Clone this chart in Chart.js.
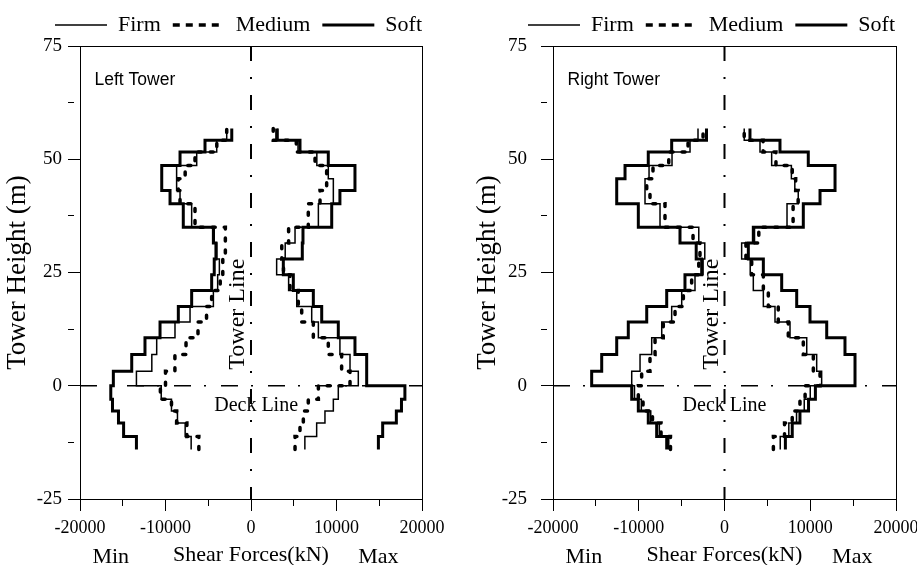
<!DOCTYPE html>
<html>
<head>
<meta charset="utf-8">
<script src="https://cdn.jsdelivr.net/npm/chart.js@4.4.1/dist/chart.umd.min.js"></script>
<style>
  html, body { margin: 0; padding: 0; background: #fff; }
  body { width: 917px; height: 565px; position: relative; overflow: hidden; }
  canvas { position: absolute; top: 0; }
</style>
</head>
<body>
<canvas id="leftChart" width="458" height="565" style="left:0"></canvas>
<canvas id="rightChart" width="468" height="565" style="left:458px"></canvas>
<script>
// step levels along the tower (m), one value per segment between two levels
const levels = [-14.1, -11.2, -8.2, -5.6, -3.0, 0, 3.2, 6.9, 10.6, 14.1, 17.5, 21, 24.5, 28, 31.5, 35, 37.7, 40.2, 43.1, 45.7, 48.6, 51.6, 54.2, 56.8];

const leftFirmMin   = [-7000, -7700, -8600, -9300, -10500, -13400, -11600, -11030, -8890, -7130, -4400, -3900, -3700, -4000, -4300, -6940, -6940, -8300, -8700, -8700, -6350, -4010, -2840];
const leftMediumMin = [-6100, -7500, -8700, -9300, -10600, -10000, -8900, -7600, -6200, -5200, -4600, -3600, -3300, -3000, -3000, -6550, -6550, -8300, -8500, -7700, -6550, -4000, -2840];
const leftSoftMin   = [-13400, -14900, -15500, -16200, -16400, -16100, -13950, -12400, -10640, -8500, -6940, -4600, -4300, -4100, -4400, -7920, -7920, -9470, -10440, -10440, -8300, -5380, -2250];
const leftFirmMax   = [6300, 7680, 8650, 9630, 10210, 12550, 11580, 10400, 7880, 7100, 5350, 4400, 3000, 4000, 5150, 7880, 7880, 9630, 9630, 9040, 7700, 5500, 3160];
const leftMediumMax = [5150, 5730, 6120, 6700, 7880, 11580, 10600, 9040, 7290, 5930, 5530, 4560, 3800, 3600, 4400, 6700, 6700, 8070, 8850, 8850, 7490, 5300, 2600];
const leftSoftMax   = [14900, 15400, 17000, 17600, 18000, 13530, 13530, 12160, 10210, 8270, 7290, 4950, 3780, 6000, 6080, 9440, 9440, 10400, 12160, 12160, 9040, 5730, 3000];

const rightFirmMin   = [-6500, -7600, -8600, -9700, -10500, -10820, -9850, -8490, -7320, -6160, -4990, -3440, -2500, -2300, -3000, -7520, -7520, -9270, -9270, -8800, -6120, -4020, -3090];
const rightMediumMin = [-6300, -7400, -8400, -9500, -10050, -9660, -8690, -8100, -7140, -5770, -4800, -3830, -3000, -2860, -3670, -6940, -6940, -8690, -9070, -8340, -6500, -4250, -2500];
const rightSoftMin   = [-6740, -7910, -8890, -10050, -10820, -15490, -14320, -12570, -11220, -9070, -6740, -4610, -2660, -3300, -5190, -10050, -10050, -12570, -12570, -11600, -8890, -6160, -2100];
const rightFirmMax   = [6500, 7500, 8400, 9300, 10000, 11330, 10750, 9590, 7640, 5890, 4530, 3360, 3000, 2000, 3500, 7290, 7290, 8600, 8200, 7800, 5500, 4140, 2300];
const rightMediumMax = [5700, 7000, 7900, 8800, 9400, 11140, 10360, 9190, 7440, 6270, 5110, 4530, 3170, 2500, 4000, 8000, 8000, 8590, 8300, 7900, 6000, 4500, 2300];
const rightSoftMax   = [7100, 7900, 8800, 9800, 10600, 15220, 15220, 14050, 11920, 9970, 8420, 6670, 4530, 2780, 3360, 9190, 9190, 11140, 12890, 12890, 9770, 6470, 2970];

const xTickLabels = [-20000, -10000, 0, 10000, 20000];
const yTickLabels = [-25, 0, 25, 50, 75];

const SERIF = '"Liberation Serif", "Times New Roman", serif';
const SANS = '"Liberation Sans", Arial, sans-serif';

Chart.defaults.font.family = SERIF;
Chart.defaults.color = '#000';

const styles = {
    Firm:   { borderWidth: 1.5, borderDash: [], cap: 'butt', legendDash: [] },
    Medium: { borderWidth: 3.5, borderDash: [3, 9], cap: 'round', legendDash: [7, 6] },
    Soft:   { borderWidth: 3,   borderDash: [], cap: 'butt', legendDash: [] },
};

// points for a stepped line: vertical run at each value, then a jump at the next level
function stepPoints(values) {
    return levels.map((h, i) => ({ x: values[Math.min(i, values.length - 1)], y: h }));
}

function series(label, values) {
    return {
        label,
        data: stepPoints(values),
        showLine: true,
        stepped: 'after',
        borderColor: '#000',
        backgroundColor: '#000',
        pointRadius: 0,
        borderWidth: styles[label].borderWidth,
        borderDash: styles[label].borderDash,
        borderCapStyle: styles[label].cap,
        borderJoinStyle: 'miter',
    };
}

function refLine(points, dash, width) {
    return {
        label: '',
        data: points,
        showLine: true,
        borderColor: '#000',
        pointRadius: 0,
        borderWidth: width,
        borderDash: dash,
    };
}

const annotations = {
    id: 'annotations',
    afterDatasetsDraw(chart, args, opts) {
        const { ctx, scales: { x, y } } = chart;
        ctx.save();
        ctx.fillStyle = '#000';

        ctx.font = '17.5px ' + SANS;
        ctx.textAlign = 'left';
        ctx.textBaseline = 'alphabetic';
        ctx.fillText(opts.name, x.getPixelForValue(-18300), y.getPixelForValue(66.3));

        ctx.font = '20px ' + SERIF;
        ctx.textAlign = 'center';
        ctx.fillText('Deck Line', x.getPixelForValue(opts.deckX), y.getPixelForValue(-5.5));

        ctx.font = '24px ' + SERIF;
        ctx.save();
        ctx.translate(x.getPixelForValue(-800), y.getPixelForValue(15.8));
        ctx.rotate(-Math.PI / 2);
        ctx.fillText('Tower Line', 0, 0);
        ctx.restore();

        ctx.font = '22px ' + SERIF;
        ctx.fillText('Min', x.getPixelForValue(-16400), chart.height - 2);
        ctx.fillText('Max', x.getPixelForValue(14900), chart.height - 2);
        ctx.restore();
    }
};

function makePanel(canvasId, name, data, layout) {
    const [firmMin, mediumMin, softMin, firmMax, mediumMax, softMax] = data;
    const datasets = [
        series('Firm', firmMin),
        series('Medium', mediumMin),
        series('Soft', softMin),
        series('Firm', firmMax),
        series('Medium', mediumMax),
        series('Soft', softMax),
        refLine([{ x: 0, y: 75 }, { x: 0, y: -25 }], [15, 16, 2, 16], 2),
        refLine([{ x: -20000, y: 0 }, { x: 20000, y: 0 }], [17, 13, 2, 15], 1.5),
    ];

    return new Chart(document.getElementById(canvasId), {
        type: 'scatter',
        data: { datasets },
        options: {
            responsive: false,
            animation: false,
            layout: { padding: { left: 0, right: layout.padRight, top: 2, bottom: 0 } },
            plugins: {
                tooltip: { enabled: false },
                legend: {
                    position: 'top',
                    align: 'end',
                    labels: {
                        color: '#000',
                        font: { size: 22, family: SERIF },
                        usePointStyle: true,
                        pointStyle: 'line',
                        pointStyleWidth: 52,
                        padding: 12,
                        generateLabels: chart => chart.data.datasets.slice(0, 3).map((ds, i) => ({
                            text: ds.label,
                            fillStyle: '#000',
                            strokeStyle: '#000',
                            fontColor: '#000',
                            lineWidth: ds.borderWidth,
                            lineDash: styles[ds.label].legendDash,
                            pointStyle: 'line',
                            datasetIndex: i,
                        })),
                    },
                },
                annotations: { name, deckX: layout.deckX },
            },
            scales: {
                x: {
                    type: 'linear',
                    min: -20000,
                    max: 20000,
                    ticks: {
                        stepSize: 5000,
                        autoSkip: false,
                        maxRotation: 0,
                        padding: 6,
                        font: { size: 18, lineHeight: 1.25 },
                        callback: v => xTickLabels.includes(v) ? String(v) : '',
                    },
                    grid: {
                        drawOnChartArea: false,
                        tickLength: 12,
                        tickColor: '#000',
                        tickBorderDash: c => xTickLabels.includes(c.tick.value) ? [] : [6, 20],
                    },
                    border: { color: '#000', width: 1 },
                    title: {
                        display: true,
                        text: 'Shear Forces(kN)',
                        font: { size: 22, lineHeight: 0.85 },
                        padding: 0,
                    },
                    afterFit: s => { s.height = 66; },
                },
                x2: {
                    type: 'linear',
                    position: 'top',
                    min: -20000,
                    max: 20000,
                    ticks: { display: false },
                    grid: { display: false, drawTicks: false },
                    border: { color: '#000', width: 1 },
                    afterFit: s => { s.height = 0; },
                },
                y: {
                    type: 'linear',
                    min: -25,
                    max: 75,
                    ticks: {
                        stepSize: 12.5,
                        autoSkip: false,
                        padding: layout.tickPad,
                        font: { size: 19 },
                        callback: v => yTickLabels.includes(v) ? String(v) : '',
                    },
                    grid: {
                        drawOnChartArea: false,
                        tickLength: 12,
                        tickColor: '#000',
                        tickBorderDash: c => yTickLabels.includes(c.tick.value) ? [] : [6, 20],
                    },
                    border: { color: '#000', width: 1 },
                    title: {
                        display: true,
                        text: 'Tower Height (m)',
                        font: { size: 27, lineHeight: 1 },
                        padding: { top: layout.titlePad, bottom: 0 },
                    },
                    afterFit: s => { s.width = layout.yWidth; },
                },
                y2: {
                    type: 'linear',
                    position: 'right',
                    min: -25,
                    max: 75,
                    ticks: { display: false },
                    grid: { display: false, drawTicks: false },
                    border: { color: '#000', width: 1 },
                    afterFit: s => { s.width = layout.y2Width; },
                },
            },
        },
        plugins: [annotations],
    });
}

makePanel('leftChart', 'Left Tower',
    [leftFirmMin, leftMediumMin, leftSoftMin, leftFirmMax, leftMediumMax, leftSoftMax],
    { padRight: 24, y2Width: 12, yWidth: 80, tickPad: 6, titlePad: 4.5, deckX: 600 });

makePanel('rightChart', 'Right Tower',
    [rightFirmMin, rightMediumMin, rightSoftMin, rightFirmMax, rightMediumMax, rightSoftMax],
    { padRight: 19, y2Width: 11, yWidth: 95, tickPad: 14, titlePad: 16, deckX: 0 });
</script>
</body>
</html>
